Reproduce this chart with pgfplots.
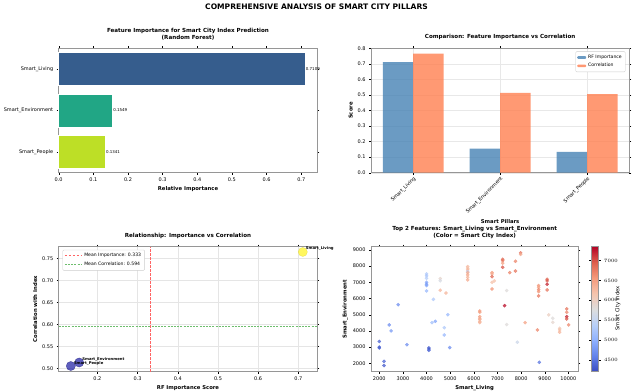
\documentclass[border=0pt]{standalone}
\usepackage{fontspec}
\setmainfont{DejaVu Sans}
\usepackage{pgfplots}
\pgfplotsset{compat=1.18}
\definecolor{vLiv}{RGB}{54,93,141}
\definecolor{vEnv}{RGB}{33,166,133}
\definecolor{vPeo}{RGB}{189,223,38}
\definecolor{steel}{RGB}{70,130,180}
\definecolor{coral}{RGB}{255,127,80}
\definecolor{framegray}{RGB}{150,150,150}
\definecolor{meanred}{RGB}{255,100,100}
\definecolor{meangreen}{RGB}{110,190,110}
\pgfplotsset{
  colormap={coolwarm}{rgb255(0cm)=(59,76,192); rgb255(1cm)=(98,130,234); rgb255(2cm)=(141,176,254); rgb255(3cm)=(184,208,249); rgb255(4cm)=(221,221,221); rgb255(5cm)=(245,196,173); rgb255(6cm)=(244,154,123); rgb255(7cm)=(222,96,77); rgb255(8cm)=(180,4,38)},
  myax/.style={
    scale only axis, anchor=south west,
    axis line style={framegray, line width=1bp},
    tick align=outside, major tick length=2bp,
    tick style={black, line width=0.4bp},
    tick label style={font=\fontsize{5}{6}\selectfont},
    /pgf/number format/assume math mode=true,
    label style={font=\fontsize{5.3}{6}\selectfont\bfseries},
    title style={font=\fontsize{5.6}{6.8}\selectfont\bfseries, align=center, yshift=-1bp},
    xlabel style={yshift=2bp},
    ylabel style={yshift=-2bp},
  }
}
\begin{document}
\begin{tikzpicture}[x=1bp,y=1bp]
\useasboundingbox (0,0) rectangle (633,391);
\node[font=\fontsize{7.6}{9}\selectfont\bfseries] at (316.5,384) {COMPREHENSIVE ANALYSIS OF SMART CITY PILLARS};

% ---------- top left ----------
\begin{axis}[myax, at={(58.7bp,218.3bp)}, width=258.6bp, height=124.4bp,
  title={Feature Importance for Smart City Index Prediction\\(Random Forest)},
  xlabel={Relative Importance},
  xmin=0, xmax=0.7464, ymin=-0.5, ymax=2.5, y dir=reverse,
  xtick={0,0.1,0.2,0.3,0.4,0.5,0.6,0.7},
  xticklabel style={/pgf/number format/fixed, /pgf/number format/precision=1, /pgf/number format/fixed zerofill},
  ytick={0,1,2}, yticklabels={Smart\_Living,Smart\_Environment,Smart\_People},
  xbar, bar width=0.8, bar shift=0,
  nodes near coords={\pgfmathprintnumber[fixed,precision=4]{\pgfplotspointmeta}},
  point meta=x,
  nodes near coords style={font=\fontsize{4}{4.5}\selectfont, anchor=west, inner sep=0.6bp},
  clip=false,
]
\addplot[fill=vLiv, draw=white, line width=0.6bp] coordinates {(0.7109,0)};
\addplot[fill=vEnv, draw=white, line width=0.6bp] coordinates {(0.1549,1)};
\addplot[fill=vPeo, draw=white, line width=0.6bp] coordinates {(0.1341,2)};
\end{axis}

% ---------- top right ----------
\begin{axis}[myax, at={(371bp,218.3bp)}, width=258.3bp, height=124.4bp,
  title={Comparison: Feature Importance vs Correlation},
  xlabel={Smart Pillars}, ylabel={Score},
  xmin=-0.485, xmax=2.485, ymin=0, ymax=0.8,
  xtick={0,1,2}, xticklabels={Smart\_Living,Smart\_Environment,Smart\_People},
  xticklabel style={rotate=45, anchor=north east, inner sep=1bp},
  ytick={0,0.1,0.2,0.3,0.4,0.5,0.6,0.7,0.8},
  yticklabel style={/pgf/number format/fixed, /pgf/number format/precision=1, /pgf/number format/fixed zerofill},
  grid=major, grid style={gray!18, line width=0.4bp},
  legend style={at={(0.985,0.975)}, anchor=north east, font=\fontsize{4.6}{5.5}\selectfont, draw=gray!40, rounded corners=1bp, inner sep=1.5bp, row sep=-0.5bp},
  legend cell align=left,
  legend image code/.code={\fill[#1] (0bp,-1.3bp) rectangle (9bp,1.3bp);},
  xlabel style={yshift=-2bp},
]
\addplot[ybar, bar width=0.35, bar shift=-0.175, fill=steel, fill opacity=0.8, draw=none] coordinates {(0,0.7109) (1,0.1549) (2,0.1341)};
\addlegendentry{RF Importance}
\addplot[ybar, bar width=0.35, bar shift=0.175, fill=coral, fill opacity=0.8, draw=none] coordinates {(0,0.765) (1,0.513) (2,0.505)};
\addlegendentry{Correlation}
\end{axis}

% ---------- bottom left ----------
\begin{axis}[myax, at={(58.7bp,19.3bp)}, width=258.6bp, height=125bp,
  title={Relationship: Importance vs Correlation},
  xlabel={RF Importance Score}, ylabel={Correlation with Index},
  xmin=0.104, xmax=0.747, ymin=0.492, ymax=0.777,
  xtick={0.2,0.3,0.4,0.5,0.6,0.7},
  ytick={0.50,0.55,0.60,0.65,0.70,0.75},
  xticklabel style={/pgf/number format/fixed, /pgf/number format/precision=1},
  yticklabel style={/pgf/number format/fixed, /pgf/number format/precision=2, /pgf/number format/fixed zerofill},
  grid=major, grid style={gray!20, line width=0.4bp},
  legend style={at={(0.015,0.975)}, anchor=north west, font=\fontsize{4.6}{5.5}\selectfont, draw=gray!40, rounded corners=1bp, inner sep=1.5bp, row sep=-0.5bp},
  legend cell align=left,
  clip mode=individual,
]
\addplot[color=meanred, dash pattern=on 2.5bp off 1.5bp, line width=1bp] coordinates {(0.3333,0.492) (0.3333,0.777)};
\addlegendentry{Mean Importance: 0.333}
\addplot[color=meangreen, dash pattern=on 2bp off 1.2bp, line width=0.7bp] coordinates {(0.104,0.5943) (0.747,0.5943)};
\addlegendentry{Mean Correlation: 0.594}
\addplot[only marks, mark=*, mark size=4.6bp, mark options={fill=yellow!90!white, draw=yellow!80!black, fill opacity=0.7, draw opacity=0.5, line width=0.3bp}, forget plot] coordinates {(0.7109,0.765)};
\addplot[only marks, mark=*, mark size=4.6bp, mark options={fill=blue!60!black!90, draw=blue!40!black, fill opacity=0.7, draw opacity=0.6, line width=0.3bp}, forget plot] coordinates {(0.1549,0.513) (0.1341,0.505)};
\node[anchor=base west, font=\fontsize{3.8}{4}\selectfont\bfseries, inner sep=0] at (axis cs:0.7109,0.765) [xshift=3bp, yshift=2bp] {Smart\_Living};
\node[anchor=base west, font=\fontsize{3.8}{4}\selectfont\bfseries, inner sep=0] at (axis cs:0.1549,0.513) [xshift=3bp, yshift=2bp] {Smart\_Environment};
\node[anchor=base west, font=\fontsize{3.8}{4}\selectfont\bfseries, inner sep=0] at (axis cs:0.1341,0.505) [xshift=3bp, yshift=2bp] {Smart\_People};
\end{axis}

% ---------- bottom right ----------
\begin{axis}[myax, at={(371bp,19.3bp)}, width=207.3bp, height=125bp,
  title={Top 2 Features: Smart\_Living vs Smart\_Environment\\(Color = Smart City Index)},
  xlabel={Smart\_Living}, ylabel={Smart\_Environment},
  xmin=1650, xmax=10420, ymin=1480, ymax=9200,
  xtick={2000,3000,4000,5000,6000,7000,8000,9000,10000},
  ytick={2000,3000,4000,5000,6000,7000,8000,9000},
  scaled ticks=false,
  xticklabel style={/pgf/number format/set thousands separator={}},
  yticklabel style={/pgf/number format/set thousands separator={}},
  colormap name=coolwarm,
  point meta min=4200, point meta max=7350,
  colorbar,
  colorbar style={
    at={(1.0613,1)}, anchor=north west,
    width=7.7bp,
    axis line style={framegray, line width=0.6bp},
    ytick={4500,5000,5500,6000,6500,7000},
    yticklabel pos=right,
    yticklabel style={font=\fontsize{5}{6}\selectfont, /pgf/number format/set thousands separator={}},
    scaled y ticks=false,
    tick align=outside, major tick length=2bp,
  },
]
\addplot[scatter, only marks, mark=*, mark size=1.7bp, scatter src=explicit,
  scatter/use mapped color={draw=mapped color, fill=mapped color},
  mark options={fill opacity=0.75, draw opacity=0.75, line width=0.2bp}]
  table[x=x, y=y, meta=c] {
x y c
2000 3350 4350
2000 3000 4400
2000 2950 4350
2200 2120 4400
2200 1860 4300
2420 4370 4700
2500 4000 4800
2800 5620 4700
3170 3150 4700
4000 7520 5300
4000 7400 5250
4000 7250 5350
4000 7000 4900
4000 6880 4800
4000 6800 4900
4000 6470 5100
4100 2950 4350
4100 2880 4300
4100 2800 4400
4230 4510 5200
4290 5950 5300
4370 4590 4900
4580 7230 5900
4580 7100 5700
4580 6510 6300
4750 4200 5300
4750 3750 5100
4820 6340 6300
4900 5000 5100
4980 2970 4700
5740 7970 6250
5740 7870 6200
5740 7770 6300
5740 7660 5400
5740 7600 6400
5740 7460 6400
5740 7310 6300
5740 7150 6400
6250 5230 6600
6250 5150 6500
6250 4880 6500
6250 4780 6400
6250 4700 6400
6250 4570 6300
6250 4510 6300
6770 7600 6500
6770 7520 6400
6770 7350 6900
6770 7000 6200
6770 6590 6600
6870 7090 6200
7220 8420 6900
7220 8340 6800
7220 8180 6500
7220 7930 7000
7300 5560 7300
7390 6490 5800
7390 4390 5800
7520 7600 6700
7760 8300 6700
7760 7700 6800
7840 3300 5600
7980 8820 6900
7980 8730 6400
8170 4510 6500
8690 4060 6700
8770 2060 4500
8740 6800 6600
8740 6690 6500
8740 6550 6700
8740 6430 6600
8740 6160 6800
9100 7190 6900
9100 7090 7000
9100 6880 7200
9100 6530 6800
9170 4990 6000
9340 4780 5800
9340 4530 5900
9630 4160 6100
9630 4060 6200
9630 3920 6300
9930 5360 6800
9930 5150 6700
9930 4880 7200
9930 4740 7000
10010 4370 6700
};
\end{axis}
\node[rotate=90, font=\fontsize{5.3}{6}\selectfont] at (618,82.7) {Smart City Index};
\end{tikzpicture}
\end{document}
